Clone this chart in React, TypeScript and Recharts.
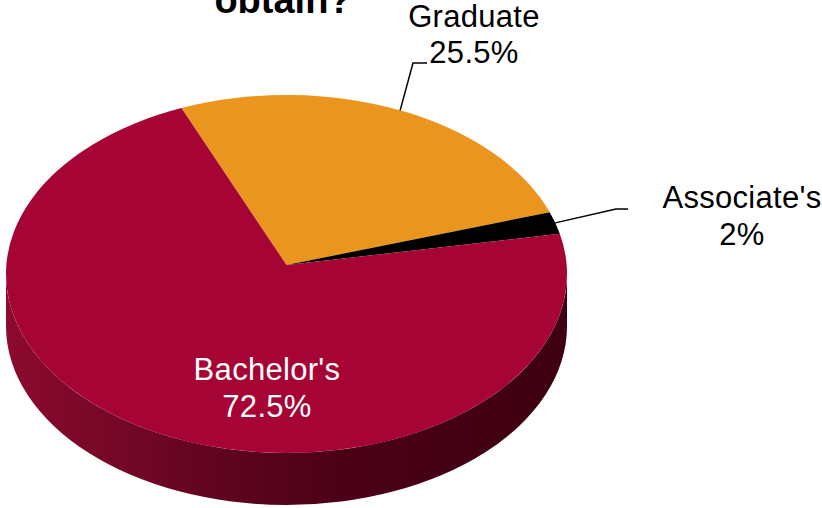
import { Pie, PieChart } from "recharts";

// slices in clockwise order, starting at the Graduate / Bachelor's edge
const categories = ["Graduate", "Associate's", "Bachelor's"];
const shares = [25.5, 2, 72.5];
const shareLabels = ["25.5%", "2%", "72.5%"];
const topColors = ["#EA961E", "#000000", "#A60434"];

const W = 822;
const H = 508;
// top face of the tilted pie
const CX = 286.5;
const CY = 274;
const RX = 280.5;
const RY = 179;
const DEPTH = 52;
const APEX_DY = -9;

const tableData = categories.map((name, i) => ({ name, value: shares[i] }));

// where Excel put the callouts
const labelLayout = [
  { elbow: [413, 63], end: [427, 63], x: 474, y: 27, gap: 36, color: "#000" },
  { elbow: [616, 209], end: [628, 209], x: 742, y: 208, gap: 37, color: "#000" },
  { elbow: null, end: null, x: 267, y: 380, gap: 37, color: "#fff" },
];

const rad = (d: number) => (d * Math.PI) / 180;
const pt = (deg: number, dy = 0): [number, number] => [
  CX + RX * Math.cos(rad(deg)),
  CY + dy - RY * Math.sin(rad(deg)),
];

function topPath(a0: number, a1: number) {
  const [x0, y0] = pt(a0);
  const [x1, y1] = pt(a1);
  const large = Math.abs(a1 - a0) > 180 ? 1 : 0;
  const sweep = a0 > a1 ? 1 : 0;
  return `M${CX},${CY + APEX_DY} L${x0},${y0} A${RX},${RY} 0 ${large} ${sweep} ${x1},${y1} Z`;
}

// the front (visible) part of the rim for a slice
function sidePaths(a0: number, a1: number) {
  const lo = Math.min(a0, a1);
  const hi = Math.max(a0, a1);
  const out: string[] = [];
  for (let k = -2; k <= 2; k++) {
    const s = Math.max(lo, -180 + 360 * k);
    const e = Math.min(hi, 360 * k);
    if (e - s < 0.01) continue;
    const [sx, sy] = pt(s);
    const [ex, ey] = pt(e);
    const [bex, bey] = pt(e, DEPTH);
    const [bsx, bsy] = pt(s, DEPTH);
    out.push(
      `M${sx},${sy} A${RX},${RY} 0 0 0 ${ex},${ey} L${bex},${bey} A${RX},${RY} 0 0 1 ${bsx},${bsy} Z`
    );
  }
  return out;
}

const renderSide = (props: any) => {
  const { startAngle, endAngle, index } = props;
  const id = `rim-${index}`;
  return (
    <g>
      <defs>
        <linearGradient id={id} gradientUnits="userSpaceOnUse" x1={CX - RX} x2={CX + RX} y1={0} y2={0}>
          <stop offset="0" stopColor="#8c0a2f" />
          <stop offset="0.35" stopColor="#630520" />
          <stop offset="0.6" stopColor="#4b0017" />
          <stop offset="1" stopColor="#3d0011" />
        </linearGradient>
      </defs>
      {sidePaths(startAngle, endAngle).map((d, j) => (
        <path key={j} d={d} fill={`url(#${id})`} stroke="none" />
      ))}
    </g>
  );
};

const renderTop = (props: any) => {
  const { startAngle, endAngle, midAngle, index } = props;
  const lay = labelLayout[index];
  const [sx, sy] = pt(midAngle);
  const font = { fontFamily: "'Liberation Sans', Arial, sans-serif", fontSize: 31, letterSpacing: 0.3 };
  return (
    <g>
      <path d={topPath(startAngle, endAngle)} fill={topColors[index]} stroke="none" />
      {lay.elbow && lay.end && (
        <polyline
          points={`${sx},${sy} ${lay.elbow[0]},${lay.elbow[1]} ${lay.end[0]},${lay.end[1]}`}
          fill="none"
          stroke="#000"
          strokeWidth={1.5}
        />
      )}
      <text x={lay.x} y={lay.y} textAnchor="middle" fill={lay.color} style={font}>
        {categories[index]}
      </text>
      <text x={lay.x} y={lay.y + lay.gap} textAnchor="middle" fill={lay.color} style={font}>
        {shareLabels[index]}
      </text>
    </g>
  );
};

export default function App() {
  return (
    <div style={{ position: "absolute", left: 0, top: 0, width: W, height: H, background: "#fff", overflow: "hidden" }}>
      <div
        style={{
          position: "absolute",
          left: 0,
          width: 566,
          top: -19,
          textAlign: "center",
          fontFamily: "'Liberation Sans', Arial, sans-serif",
          fontWeight: "bold",
          fontSize: 38,
          lineHeight: "38px",
          color: "#000",
        }}
      >
        obtain?
      </div>
      <PieChart width={W} height={H} margin={{ top: 0, right: 0, bottom: 0, left: 0 }}>
        <Pie
          data={tableData}
          dataKey="value"
          nameKey="name"
          cx={CX}
          cy={CY}
          outerRadius={RX}
          startAngle={112}
          endAngle={-248}
          fill="none"
          stroke="none"
          labelLine={false}
          label={renderSide}
          isAnimationActive={false}
        />
        <Pie
          data={tableData}
          dataKey="value"
          nameKey="name"
          cx={CX}
          cy={CY}
          outerRadius={RX}
          startAngle={112}
          endAngle={-248}
          fill="none"
          stroke="none"
          labelLine={false}
          label={renderTop}
          isAnimationActive={false}
        />
      </PieChart>
    </div>
  );
}
